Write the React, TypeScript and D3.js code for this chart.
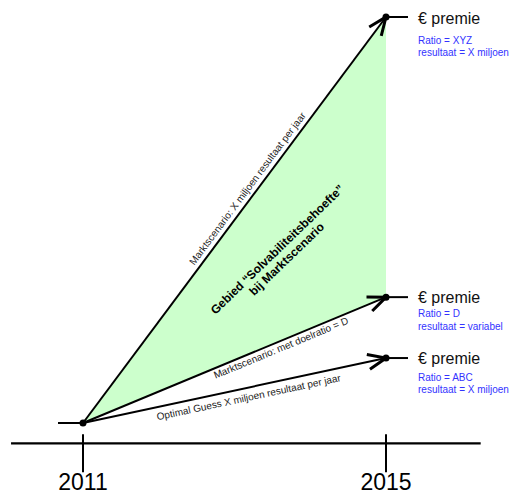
import React from "react";
import * as d3 from "d3";

const years = [2011, 2015];
const startValue = 0;
const scenarioNames = ["top", "mid", "low"];
const endValues = [100, 31, 16];
const lineLabels = [
  "Marktscenario: X miljoen resultaat per jaar",
  "Marktscenario: met doelratio = D",
  "Optimal Guess X miljoen resultaat per jaar",
];
const ratioLabels = ["Ratio = XYZ", "Ratio = D", "Ratio = ABC"];
const resultLabels = ["resultaat = X miljoen", "resultaat = variabel", "resultaat = X miljoen"];
const premieLabel = "€ premie";
const areaTitle = ["Gebied “Solvabiliteitsbehoefte”", "bij Marktscenario"];

const W = 512;
const H = 495;
const FONT = "'Liberation Sans', Arial, Helvetica, sans-serif";

export default function App() {
  const x = d3.scaleLinear().domain([2011, 2015]).range([83, 386]);
  const y = d3.scaleLinear().domain([0, 100]).range([423, 17]);
  const x0 = x(years[0]);
  const x1 = x(years[1]);
  const y0 = y(startValue);
  const axisY = y(-5);

  const area = d3.area<[number, number, number]>()
    .x((d) => d[0])
    .y0((d) => d[1])
    .y1((d) => d[2]);
  const areaPath = area([
    [x0, y0, y0],
    [x1, y(endValues[1]), y(endValues[0])],
  ]) as string;

  const labelPos = [
    { t: 0.565, dy: -5 },
    { t: 0.645, dy: 10 },
    { t: 0.54, dy: 13 },
  ];
  const groupOffsets = [
    { p: 7, r: 27, s: 39 },
    { p: 6, r: 20, s: 33 },
    { p: 6, r: 23, s: 35 },
  ];

  return (
    <svg width={W} height={H} style={{ display: "block", position: "absolute", left: 0, top: 0 }}>
      <defs>
        <marker id="arr" markerUnits="userSpaceOnUse" markerWidth="24" markerHeight="24" viewBox="-14 -8 16 16" refX="0" refY="0" orient="auto">
          <path d="M-12,-5 L0,0 L-12,5" fill="none" stroke="#000" strokeWidth={2} strokeLinejoin="miter" />
        </marker>
      </defs>
      <path d={areaPath} fill="#ccffcc" stroke="none" />
      <line x1={x(2010.05)} x2={x(2016.25)} y1={axisY} y2={axisY} stroke="#000" strokeWidth={2.2} />
      {years.map((yr) => (
        <g key={yr}>
          <line x1={x(yr)} x2={x(yr)} y1={axisY - 9} y2={axisY + 29} stroke="#000" strokeWidth={2} />
          <text x={x(yr)} y={axisY + 47} textAnchor="middle" fontFamily={FONT} fontSize={23} fill="#000">
            {yr}
          </text>
        </g>
      ))}
      <line x1={x(2010.67)} x2={x0} y1={y0} y2={y0} stroke="#000" strokeWidth={2} />
      {endValues.map((v, i) => {
        const ye = y(v);
        const ang = (Math.atan2(ye - y0, x1 - x0) * 180) / Math.PI;
        const lp = labelPos[i];
        const px = x0 + (x1 - x0) * lp.t;
        const py = y0 + (ye - y0) * lp.t;
        const g = groupOffsets[i];
        return (
          <g key={scenarioNames[i]}>
            <line x1={x0} y1={y0} x2={x1} y2={ye} stroke="#000" strokeWidth={2} markerEnd="url(#arr)" />
            <line x1={x1} x2={x1 + 22} y1={ye} y2={ye} stroke="#000" strokeWidth={2} />
            <circle cx={x1} cy={ye} r={3.5} fill="#000" />
            <text transform={`translate(${px},${py}) rotate(${ang})`} y={lp.dy} textAnchor="middle" fontFamily={FONT} fontSize={10} fill="#222">
              {lineLabels[i]}
            </text>
            <text x={x1 + 32} y={ye + g.p} fontFamily={FONT} fontSize={16} fill="#111">
              {premieLabel}
            </text>
            <text x={x1 + 32} y={ye + g.r} fontFamily={FONT} fontSize={10} fill="#3333ff">
              {ratioLabels[i]}
            </text>
            <text x={x1 + 32} y={ye + g.s} fontFamily={FONT} fontSize={10} fill="#3333ff">
              {resultLabels[i]}
            </text>
          </g>
        );
      })}
      <circle cx={x0} cy={y0} r={3.5} fill="#000" />
      <g transform={`translate(${x(2013.63)},${y(41.5)}) rotate(-44)`}>
        <text y={-3} textAnchor="middle" fontFamily={FONT} fontSize={12} fontWeight="bold" fill="#000">
          {areaTitle[0]}
        </text>
        <text y={10.5} textAnchor="middle" fontFamily={FONT} fontSize={12} fontWeight="bold" fill="#000">
          {areaTitle[1]}
        </text>
      </g>
    </svg>
  );
}
